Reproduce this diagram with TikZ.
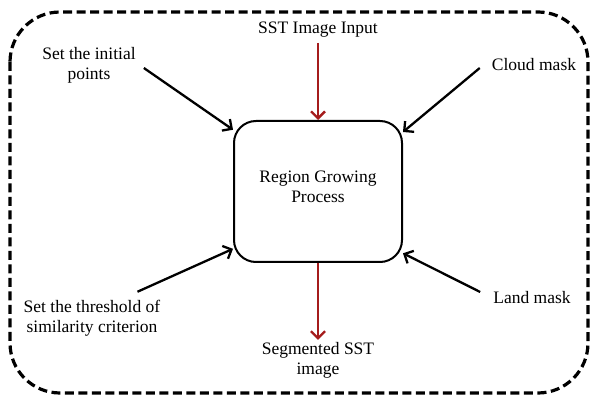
\documentclass[tikz,border=0pt]{standalone}
\usepackage{fontspec}
\setmainfont{Liberation Serif}
\usetikzlibrary{arrows.meta,positioning}
\definecolor{darkred}{RGB}{165,28,28}
\tikzset{
  lbl/.style={align=center, inner sep=0pt, font=\fontsize{17.5}{20}\selectfont},
  process/.style={draw, line width=2pt, rounded corners=22pt,
    minimum width=168pt, minimum height=141pt, text depth=10pt, lbl},
  feed/.style={line width=2.3pt, -{Straight Barb[length=7pt,width=14pt]}},
  flow/.style={feed, draw=darkred},
  frame/.style={line width=3.2pt, dash pattern=on 9pt off 4.5pt, rounded corners=50pt},
}

\begin{document}
\begin{tikzpicture}[x=1pt,y=-1pt]
   \useasboundingbox (0,0) rectangle (590,401);
   \draw[frame] (10,12) rectangle (588,393);

   \node[process] (proc) at (318,191.5) {Region Growing\\Process};
   \node[lbl] (sst)    at (318,30)  {SST Image Input};
   \node[lbl] (init)   at (89,65)   {Set the initial\\points};
   \node[lbl] (cloud)  at (534,65)  {Cloud mask};
   \node[lbl] (thresh) at (92,318)  {Set the threshold of\\similarity criterion};
   \node[lbl] (land)   at (532,298) {Land mask};
   \node[lbl] (seg)    at (318,360) {Segmented SST\\image};

   % inputs
   \path[feed]
    ([shift={(8,3)}]init.east) edge (proc.144)
    ([shift={(-12,3)}]cloud.west) edge (proc.35)
    ([shift={(-23,-8)}]thresh.north east) edge (proc.214)
    ([shift={(-13,-6)}]land.west) edge (proc.324);
   % main flow
   \draw[flow] ([yshift=-5]sst.south) -- (proc.north);
   \draw[flow] (proc.south) -- ([yshift=2]seg.north);
\end{tikzpicture}
\end{document}
